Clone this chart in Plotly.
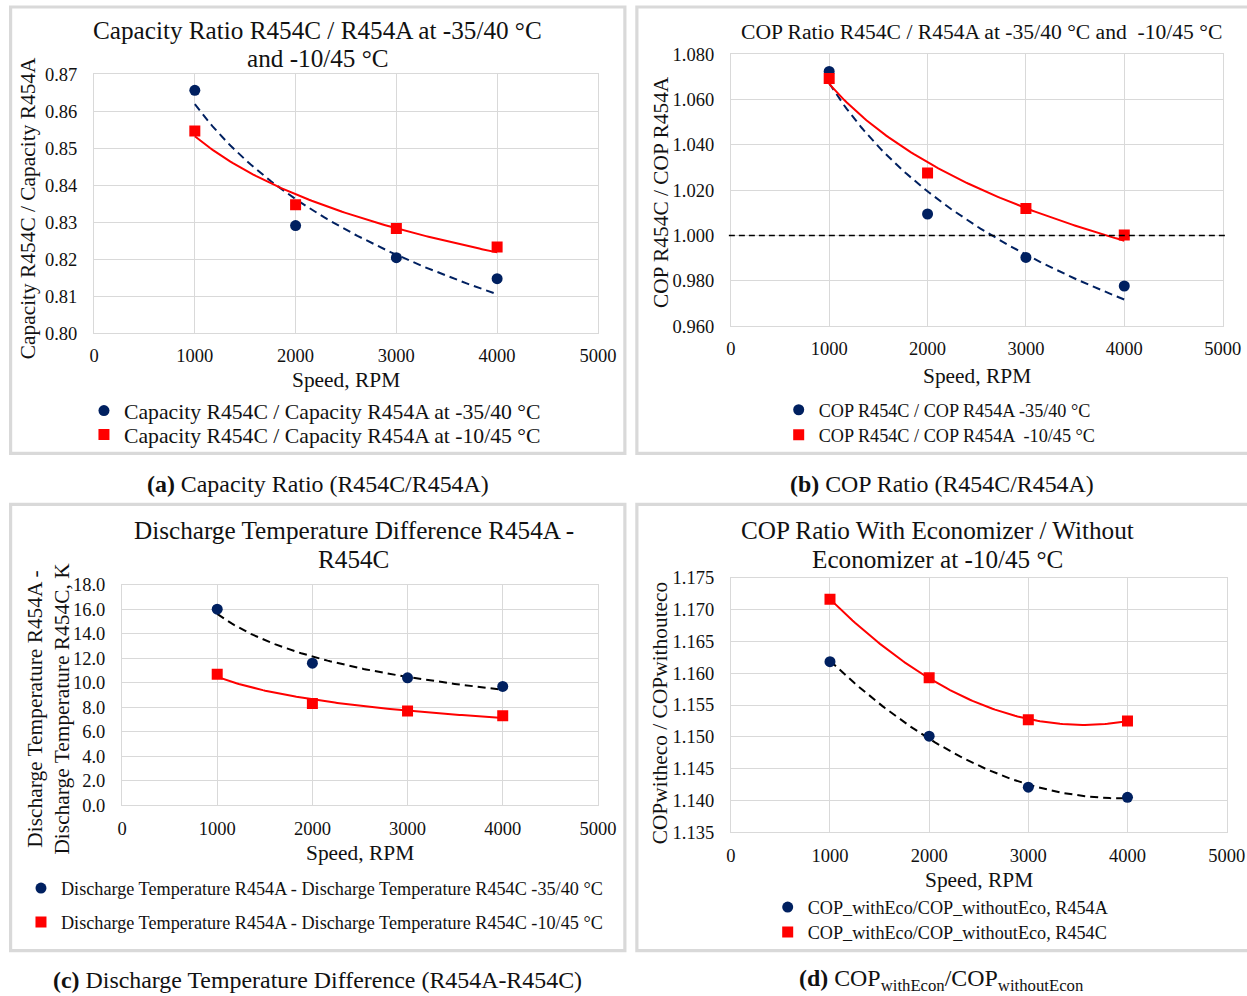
import numpy as np
import plotly.graph_objects as go

# figure canvas (a little larger than the window; the viewer shrinks it slightly)
WF, HF = 1272, 1005
# reference-pixel -> figure-pixel mapping (measured from the viewer)
OX, OY, S = 3.9, 9.5, 0.9815

FONT = "Liberation Serif"
NAVY = "#002060"
RED = "#FF0000"
GRID = "#D9D9D9"
TXT = "#111111"

# ---------------- data ----------------
speed = [1000, 2000, 3000, 4000]

cap_ratio_3540 = [0.8657, 0.8291, 0.8204, 0.8147]
cap_ratio_1045 = [0.8547, 0.8347, 0.8283, 0.8233]

cop_ratio_3540 = [1.0725, 1.0095, 0.9903, 0.9777]
cop_ratio_1045 = [1.0694, 1.0276, 1.0119, 1.0002]
cop_parity = 1.0

dT_3540 = [16.0, 11.6, 10.4, 9.7]
dT_1045 = [10.7, 8.3, 7.7, 7.3]

eco_R454A = [1.1618, 1.1501, 1.1421, 1.1405]
eco_R454C = [1.1716, 1.1593, 1.1527, 1.1525]

x_ticks = [0, 1000, 2000, 3000, 4000, 5000]


def fx(p):  # reference px -> figure px (x)
    return (p - OX) / S


def fy(p):
    return (p - OY) / S


def px(p):
    return fx(p) / WF


def py(p):
    return 1 - fy(p) / HF


xs = np.asarray(speed, float)
xfit = np.linspace(xs.min(), xs.max(), 120)


def log_fit(y):
    b, a = np.polyfit(np.log(xs), np.asarray(y, float), 1)
    return a + b * np.log(xfit)


def pow_fit(y):
    b, a = np.polyfit(np.log(xs), np.log(np.asarray(y, float)), 1)
    return np.exp(a) * xfit ** b


def poly2_fit(y):
    c = np.polyfit(xs, np.asarray(y, float), 2)
    return np.polyval(c, xfit)


fig = go.Figure()


def add_panel(k, y1, y2, fit, name1, name2, line1_color):
    xa = "x" if k == 1 else f"x{k}"
    ya = "y" if k == 1 else f"y{k}"
    fig.add_trace(go.Scatter(x=xfit, y=fit(y1), mode="lines", xaxis=xa, yaxis=ya,
                             line=dict(color=line1_color, width=2, dash="8px,5px"),
                             showlegend=False, hoverinfo="skip"))
    fig.add_trace(go.Scatter(x=xfit, y=fit(y2), mode="lines", xaxis=xa, yaxis=ya,
                             line=dict(color=RED, width=2),
                             showlegend=False, hoverinfo="skip"))
    l1 = "legend" if k == 1 else f"legend{2*k-1}"
    fig.add_trace(go.Scatter(x=speed, y=y1, mode="markers", xaxis=xa, yaxis=ya,
                             name=name1, legend=l1,
                             marker=dict(symbol="circle", size=11, color=NAVY)))
    fig.add_trace(go.Scatter(x=speed, y=y2, mode="markers", xaxis=xa, yaxis=ya,
                             name=name2, legend=f"legend{2*k}",
                             marker=dict(symbol="square", size=11, color=RED)))


add_panel(1, cap_ratio_3540, cap_ratio_1045, log_fit,
          "Capacity R454C / Capacity R454A at -35/40 °C",
          "Capacity R454C / Capacity R454A at -10/45 °C", NAVY)
add_panel(2, cop_ratio_3540, cop_ratio_1045, log_fit,
          "COP R454C / COP R454A -35/40 °C",
          "COP R454C / COP R454A  -10/45 °C", NAVY)
add_panel(3, dT_3540, dT_1045, pow_fit,
          "Discharge Temperature R454A - Discharge Temperature R454C -35/40 °C",
          "Discharge Temperature R454A - Discharge Temperature R454C -10/45 °C", "#000000")
add_panel(4, eco_R454A, eco_R454C, poly2_fit,
          "COP_withEco/COP_withoutEco, R454A",
          "COP_withEco/COP_withoutEco, R454C", "#000000")

# ---------------- axes ----------------
panels = {
    1: dict(xd=(93, 597), yd=(74, 333), yr=(0.80, 0.87), dt=0.01, fmt=".2f"),
    2: dict(xd=(730, 1222), yd=(54, 326), yr=(0.96, 1.08), dt=0.02, fmt=".3f"),
    3: dict(xd=(121, 597), yd=(585, 806), yr=(0.0, 18.0), dt=2.0, fmt=".1f"),
    4: dict(xd=(730, 1226), yd=(578, 833), yr=(1.135, 1.175), dt=0.005, fmt=".3f"),
}
tickfont = dict(family=FONT, size=18.5, color=TXT)
for k, p in panels.items():
    xn = "xaxis" if k == 1 else f"xaxis{k}"
    yn = "yaxis" if k == 1 else f"yaxis{k}"
    ya = "y" if k == 1 else f"y{k}"
    xa = "x" if k == 1 else f"x{k}"
    fig.update_layout({
        xn: dict(domain=[px(p["xd"][0]), px(p["xd"][1])], anchor=ya,
                 range=[0, 5000], tickvals=x_ticks, showgrid=True, gridcolor=GRID,
                 gridwidth=1, zeroline=False, showline=True, linecolor=GRID,
                 linewidth=1, mirror=True, ticks="", tickfont=tickfont,
                 ticklabelstandoff=6, fixedrange=True),
        yn: dict(domain=[py(p["yd"][1]), py(p["yd"][0])], anchor=xa,
                 range=list(p["yr"]), dtick=p["dt"], tick0=p["yr"][0],
                 tickformat=p["fmt"], showgrid=True, gridcolor=GRID, gridwidth=1,
                 zeroline=False, showline=True, linecolor=GRID, linewidth=1,
                 mirror=True, ticks="", tickfont=tickfont, ticklabelstandoff=12,
                 fixedrange=True),
    })

# reference line at COP ratio = 1
fig.add_shape(type="line", xref="x2 domain", x0=-0.004, x1=1.01, yref="y2",
              y0=cop_parity, y1=cop_parity,
              line=dict(color="#000000", width=1.6, dash="6px,4px"))

# ---------------- panel frames ----------------
frames = [(9.5, 6.5, 624, 453.5), (636, 6.5, 1262, 453.5),
          (9.5, 504.5, 624, 951.5), (636, 504.5, 1262, 951.5)]
for x0, y0, x1, y1 in frames:
    fig.add_shape(type="rect", xref="paper", yref="paper", x0=px(x0), x1=px(x1),
                  y0=py(y1), y1=py(y0), line=dict(color=GRID, width=3.2), layer="below")

# ---------------- text ----------------
ann = []


def text(t, x, y, size, angle=0, color=TXT):
    ann.append(dict(text=t, x=px(x), y=py(y), xref="paper", yref="paper",
                    showarrow=False, xanchor="center", yanchor="middle",
                    textangle=angle, font=dict(family=FONT, size=size, color=color)))


# chart titles (one annotation per line to match the tighter line spacing)
text("Capacity Ratio R454C / R454A at -35/40 °C", 317, 30, 25.2)
text("and -10/45 °C", 317, 58, 25.2)
text("COP Ratio R454C / R454A at -35/40 °C and  -10/45 °C", 981, 32, 21.6)
text("Discharge Temperature Difference R454A -", 353, 531, 25.2)
text("R454C", 353, 560, 25.2)
text("COP Ratio With Economizer / Without", 937, 531, 25.2)
text("Economizer at -10/45 °C", 937, 560, 25.2)

# axis titles
text("Speed, RPM", 345, 380, 21.4)
text("Speed, RPM", 976, 376, 21.4)
text("Speed, RPM", 359, 854, 21.4)
text("Speed, RPM", 978, 881, 21.4)
text("Capacity R454C / Capacity R454A", 27, 208, 21.4, -90)
text("COP R454C / COP R454A", 660, 192, 21.4, -90)
text("Discharge Temperature R454A -<br>Discharge Temperature R454C, K", 47, 709, 21.4, -90)
text("COPwitheco / COPwithouteco", 660, 713, 21.4, -90)

# captions
text("<b>(a)</b> Capacity Ratio (R454C/R454A)", 317, 484, 23.9)
text("<b>(b)</b> COP Ratio (R454C/R454A)", 941, 484, 23.9)
text("<b>(c)</b> Discharge Temperature Difference (R454A-R454C)", 317, 981, 23.9)
text("<b>(d)</b> COP<sub>withEcon</sub>/COP<sub>withoutEcon</sub>", 941, 981, 23.9)

# ---------------- legends ----------------
# (reference text start x, row centre y, font size)
leg_pos = {
    1: (119, 411, 21.7), 2: (119, 435, 21.7),
    3: (814, 410, 18.2), 4: (814, 435, 18.2),
    5: (56, 889, 18.2), 6: (56, 923, 18.2),
    7: (803, 908, 18.2), 8: (803, 933, 18.2),
}
legs = {}
for i, (tx, ty, fsz) in leg_pos.items():
    key = "legend" if i == 1 else f"legend{i}"
    lx = fx(tx + 5.5) - 42.4
    legs[key] = dict(x=lx / WF, y=py(ty), xanchor="left", yanchor="middle",
                     bgcolor="rgba(0,0,0,0)", borderwidth=0,
                     font=dict(family=FONT, size=fsz, color=TXT))

fig.update_layout(width=WF, height=HF, margin=dict(l=0, r=0, t=0, b=0),
                  paper_bgcolor="white", plot_bgcolor="white", hovermode=False,
                  annotations=ann, showlegend=True, **legs)

fig.write_html(
    "out.html",
    config={"displayModeBar": False, "staticPlot": True},
    post_script=("document.documentElement.style.margin='0';"
                 "document.body.style.margin='0';document.body.style.padding='0';"
                 "document.documentElement.style.overflow='hidden';"
                 "document.body.style.overflow='hidden';"),
)
